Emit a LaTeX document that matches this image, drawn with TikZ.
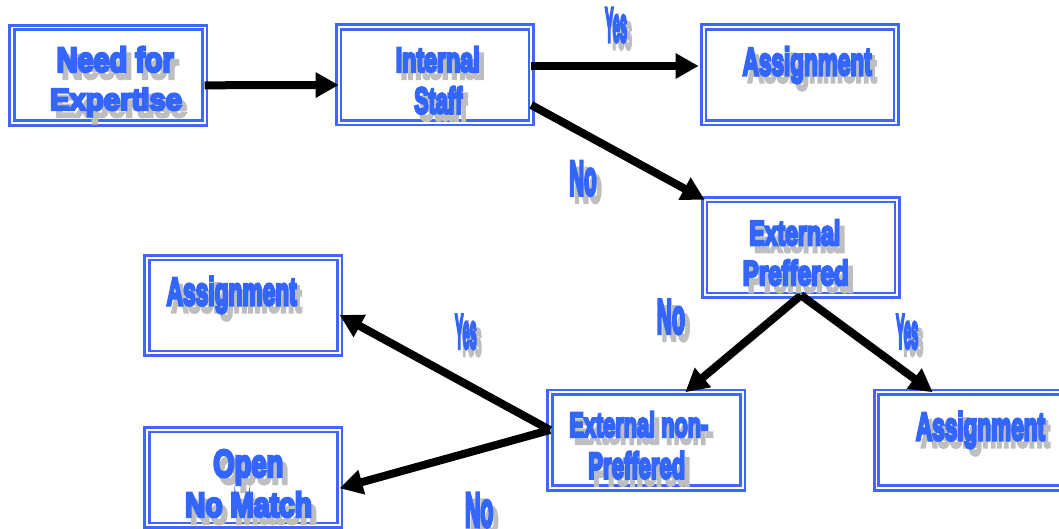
\documentclass[tikz,border=0pt]{standalone}
\usepackage{fontspec}
\usetikzlibrary{arrows.meta}
\newfontfamily\impfont{Liberation Sans}
\definecolor{bxblue}{RGB}{64,102,255}
\definecolor{txblue}{RGB}{51,102,255}
\definecolor{shgray}{RGB}{190,190,190}
\tikzset{
  box/.style={draw=bxblue, double=white, double distance=1.8pt, line width=2.8pt,
    minimum width=192.6pt, minimum height=95.6pt, inner sep=0pt, outer sep=0pt},
  txtstyle/.style={inner sep=0pt, outer sep=0pt, font=\impfont\bfseries},
  flow/.style={line width=8pt, -{Triangle[length=23pt,width=24pt]}}
}
\newcommand\heavytext[1]{\special{pdf:literal direct 2 Tr 0.8 w}#1\special{pdf:literal direct 0 Tr 0.4 w}}
% name, x-left, baseline, width, height, text
\newcommand\dtxt[6]{%
  \node[txtstyle,text=shgray,anchor=base west] (#1s) at (#2+5,#3+7) {\resizebox{#4pt}{#5pt}{\heavytext{#6}}};
  \node[txtstyle,text=txblue,anchor=base west] (#1) at (#2,#3) {\resizebox{#4pt}{#5pt}{\heavytext{#6}}};}
\begin{document}
\begin{tikzpicture}[x=1pt,y=-1pt]
\useasboundingbox (0,0) rectangle (1059,529);
% boxes
\node[box] (b1) at (108.3,75.3) {};
\node[box] (b2) at (435,75) {};
\node[box] (b3) at (800,75) {};
\node[box] (b4) at (801,247.5) {};
\node[box] (b5) at (646.3,440) {};
\node[box] (b6) at (972.7,440) {};
\node[box] (b7) at (243.3,305.5) {};
\node[box] (b8) at (243.3,477.5) {};
% connectors
\draw[flow] ([yshift=-10pt]b1.east) -- ([yshift=-10pt]b2.west);
\draw[flow] ([yshift=9pt]b2.east) -- ([yshift=9pt,xshift=-5pt]b3.west);
\draw[flow] ([yshift=-30pt]b2.east) -- (b4.north west);
\draw[flow] (b4.south) -- ([xshift=39pt]b5.north);
\draw[flow] (b4.south) -- ([xshift=-40pt]b6.north);
\draw[flow] ([yshift=10pt]b5.west) -- ([yshift=-9.5pt]b7.east);
\draw[flow] ([yshift=10pt]b5.west) -- ([yshift=-10.8pt]b8.east);
% box texts
\dtxt{t1a}{56.7}{71.7}{117}{25}{Need for}
\dtxt{t1b}{50}{110}{132}{22}{Expertise}
\dtxt{t2a}{395.7}{71.7}{84}{25}{Internal}
\dtxt{t2b}{414.3}{113.3}{48}{26.6}{Staff}
\dtxt{t3}{742.7}{75}{129}{28}{Assignment}
\dtxt{t4a}{749.3}{245}{91}{25}{External}
\dtxt{t4b}{742.7}{285}{106}{25}{Preffered}
\dtxt{t5a}{569.3}{436.7}{139}{25}{External non-}
\dtxt{t5b}{588.3}{478.3}{97}{26.6}{Preffered}
\dtxt{t6}{916}{440}{129}{28.3}{Assignment}
\dtxt{t7}{166.7}{305}{130}{28.3}{Assignment}
\dtxt{t8a}{213.3}{476.7}{70}{26.7}{Open}
\dtxt{t8b}{185}{516.7}{127}{25}{No Match}
% connector labels
\dtxt{l1}{605}{41.7}{22}{33.4}{Yes}
\dtxt{l2}{569.3}{195}{27.4}{33.3}{No}
\dtxt{l3}{656.7}{333.3}{28.3}{33.3}{No}
\dtxt{l4}{896}{348.3}{22.3}{33.3}{Yes}
\dtxt{l5}{455}{348.3}{21.7}{33.3}{Yes}
\dtxt{l6}{465}{526.6}{28.3}{33.3}{No}
\end{tikzpicture}
\end{document}
